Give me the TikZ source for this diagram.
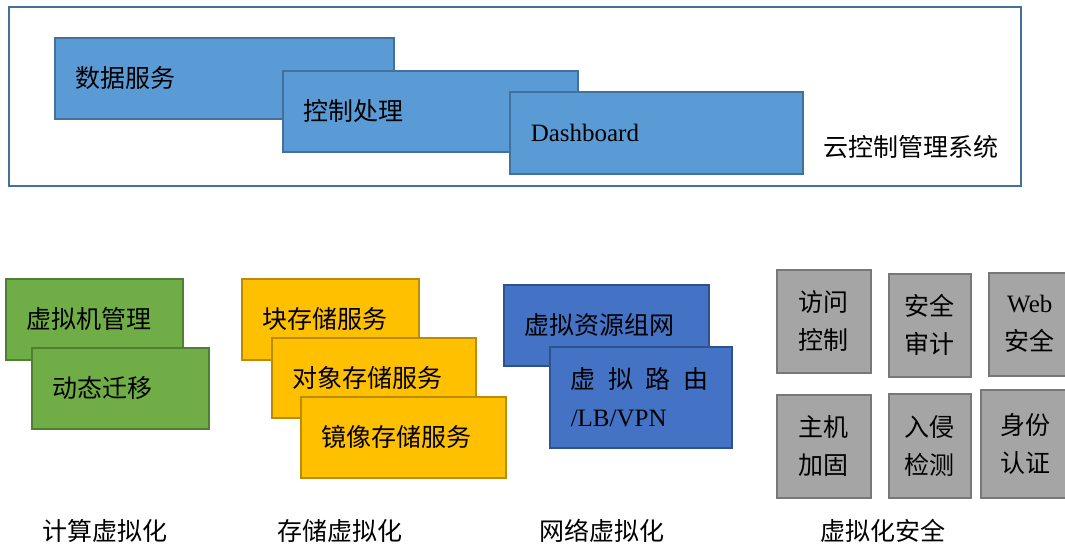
\documentclass[tikz,border=0pt]{standalone}
\usepackage{fontspec}
\setmainfont{Liberation Serif}
\newfontfamily\cjk{Noto Sans CJK SC}
\usepackage{tikz}

\definecolor{frameline}{HTML}{41719C}
\definecolor{srvfill}{HTML}{5B9BD5}
\definecolor{srvline}{HTML}{41719C}
\definecolor{cpufill}{HTML}{70AD47}
\definecolor{cpuline}{HTML}{507E32}
\definecolor{stofill}{HTML}{FFC000}
\definecolor{stoline}{HTML}{BC8C00}
\definecolor{netfill}{HTML}{4472C4}
\definecolor{netline}{HTML}{2F528F}
\definecolor{secfill}{HTML}{A5A5A5}
\definecolor{secline}{HTML}{787878}

\newcommand{\bigtxt}{\fontsize{25}{38}\selectfont}

\begin{document}
\begin{tikzpicture}[x=1pt,y=-1pt,
  box/.style={draw,rectangle,anchor=north west,line width=1.5pt,inner xsep=21pt,inner ysep=0pt,align=left,font=\bigtxt},
  srv/.style={box,fill=srvfill,draw=srvline,minimum height=81pt},
  cpu/.style={box,fill=cpufill,draw=cpuline,minimum height=81pt},
  sto/.style={box,fill=stofill,draw=stoline,minimum height=81pt},
  net/.style={box,fill=netfill,draw=netline},
  sec/.style={draw=secline,fill=secfill,rectangle,anchor=north west,line width=1.5pt,inner sep=0pt,align=center,font=\bigtxt},
  caption/.style={font=\bigtxt,inner sep=0pt}]

  \clip (0,0) rectangle (1065,547);

  % cloud control management system
  \node[draw=frameline,line width=2pt,anchor=north west,inner sep=0pt,minimum width=1012pt,minimum height=179pt] (cms) at (8,6) {};
  \node[srv,text width=297pt] (data) at (54,37) {\cjk 数据服务};
  \node[srv,text width=253pt] (ctrl) at (282,70) {\cjk 控制处理};
  \node[srv,text width=251pt,minimum height=82pt] (dash) at (509,91) {Dashboard};
  \node[caption] (cmslbl) at (911,147) {\cjk 云控制管理系统};

  % compute
  \node[cpu,text width=135pt] (vm) at (5,278) {\cjk 虚拟机管理};
  \node[cpu,text width=135pt] (mig) at (31,347) {\cjk 动态迁移};
  \node[caption] (cpulbl) at (105,531) {\cjk 计算虚拟化};

  % storage
  \node[sto,text width=135pt] (blk) at (241,278) {\cjk 块存储服务};
  \node[sto,text width=162pt,minimum height=80pt] (obj) at (271,337) {\cjk 对象存储服务};
  \node[sto,text width=163pt] (img) at (300,396) {\cjk 镜像存储服务};
  \node[caption] (stolbl) at (340,531) {\cjk 存储虚拟化};

  % network
  \node[net,text width=163pt,minimum height=81pt] (vnet) at (503,284) {\cjk 虚拟资源组网};
  \node[net,text width=140pt,minimum height=101pt] (vrt) at (549,346)
    {{\cjk 虚\hspace{12.5pt}拟\hspace{12.5pt}路\hspace{12.5pt}由}\\/LB/VPN};
  \node[caption] (netlbl) at (602,531) {\cjk 网络虚拟化};

  % security
  \node[sec,minimum width=94pt,minimum height=103pt] (acl) at (776,269) {\cjk 访问\\\cjk 控制};
  \node[sec,minimum width=82pt,minimum height=103pt] (audit) at (888,273) {\cjk 安全\\\cjk 审计};
  \node[sec,minimum width=82pt,minimum height=103pt] (web) at (988,272) {Web\\\cjk 安全};
  \node[sec,minimum width=94pt,minimum height=103pt] (host) at (776,394) {\cjk 主机\\\cjk 加固};
  \node[sec,minimum width=82pt,minimum height=104pt] (ids) at (888,393) {\cjk 入侵\\\cjk 检测};
  \node[sec,minimum width=90pt,minimum height=108pt] (auth) at (980,389) {\cjk 身份\\\cjk 认证};
  \node[caption] (seclbl) at (883,531) {\cjk 虚拟化安全};

\end{tikzpicture}
\end{document}
